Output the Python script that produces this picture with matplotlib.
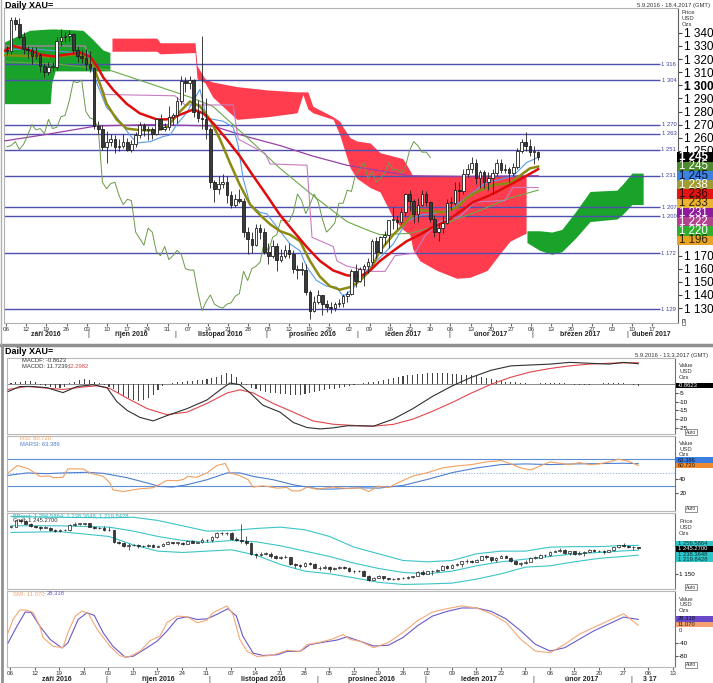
import numpy as np
import matplotlib
matplotlib.use('Agg')
import matplotlib.pyplot as plt
from matplotlib.patches import Rectangle
from matplotlib.lines import Line2D

# Arial-like font with Czech diacritics
plt.rcParams['font.family'] = ['Liberation Sans', 'DejaVu Sans']

W, H = 713, 683

# daily XAU candles 5.9.2016 - 2.3.2017 (x = trading-day index)
opens = [1326, 1326, 1350, 1347, 1337, 1328, 1327, 1322, 1323, 1315, 1310, 1314, 1314, 1334, 1337, 1338, 1339, 1327, 1322, 1321,
         1316, 1313, 1269, 1267, 1253, 1257, 1259, 1253, 1254, 1257, 1251, 1255, 1262, 1270, 1266, 1267, 1263, 1274, 1267, 1268, 1276,
         1277, 1288, 1303, 1302, 1304, 1280, 1275, 1274, 1267, 1226, 1221, 1225, 1226, 1216, 1209, 1213, 1212, 1188, 1183, 1178, 1191, 1188,
         1173, 1170, 1177, 1167, 1170, 1174, 1171, 1160, 1159, 1159, 1142, 1128, 1135, 1140, 1133, 1131, 1130, 1133, 1134, 1139, 1141, 1158,
         1151, 1160, 1162, 1165, 1181, 1173, 1184, 1186, 1197, 1197, 1196, 1203, 1217, 1212, 1202, 1209, 1217, 1211, 1198, 1188, 1191, 1195,
         1210, 1210, 1220, 1219, 1232, 1236, 1241, 1229, 1234, 1226, 1229, 1233, 1241, 1235, 1236, 1233, 1238, 1250, 1257, 1254,
         1249, 1249]
highs = [1330, 1352, 1352, 1351, 1341, 1330, 1329, 1329, 1325, 1317, 1318, 1318, 1337, 1343, 1341, 1342, 1340, 1330, 1327, 1328,
         1326, 1314, 1273, 1270, 1265, 1263, 1262, 1259, 1263, 1260, 1258, 1264, 1272, 1271, 1269, 1268, 1275, 1278, 1271, 1284, 1279,
         1291, 1307, 1306, 1307, 1305, 1289, 1338, 1290, 1268, 1228, 1231, 1232, 1231, 1219, 1217, 1221, 1214, 1192, 1188, 1194, 1194, 1191,
         1180, 1182, 1180, 1175, 1178, 1180, 1174, 1163, 1165, 1164, 1144, 1139, 1144, 1140, 1136, 1135, 1135, 1137, 1141, 1143, 1160, 1164,
         1161, 1164, 1168, 1183, 1184, 1185, 1189, 1197, 1207, 1200, 1206, 1218, 1220, 1213, 1214, 1220, 1219, 1212, 1201, 1195, 1200, 1213,
         1215, 1226, 1226, 1236, 1240, 1245, 1244, 1235, 1235, 1234, 1236, 1244, 1244, 1240, 1238, 1241, 1252, 1259, 1264, 1259,
         1254, 1250]
lows = [1323, 1324, 1342, 1335, 1324, 1321, 1316, 1320, 1310, 1306, 1308, 1311, 1312, 1330, 1333, 1334, 1324, 1318, 1317, 1312,
        1310, 1267, 1263, 1251, 1241, 1254, 1248, 1250, 1252, 1250, 1249, 1253, 1260, 1261, 1258, 1259, 1262, 1266, 1265, 1266, 1270,
        1271, 1285, 1295, 1297, 1276, 1272, 1267, 1259, 1222, 1211, 1217, 1222, 1210, 1206, 1207, 1210, 1184, 1171, 1172, 1177, 1183, 1171,
        1164, 1168, 1158, 1165, 1168, 1168, 1157, 1152, 1155, 1140, 1122, 1127, 1133, 1125, 1127, 1126, 1128, 1131, 1131, 1135, 1140, 1146,
        1150, 1147, 1157, 1163, 1168, 1172, 1179, 1176, 1190, 1190, 1194, 1200, 1204, 1195, 1196, 1208, 1208, 1196, 1184, 1181, 1187, 1194,
        1205, 1209, 1212, 1217, 1230, 1233, 1225, 1222, 1222, 1220, 1217, 1231, 1233, 1233, 1226, 1231, 1236, 1248, 1250, 1246,
        1240, 1243]
closes = [1327, 1350, 1347, 1337, 1328, 1327, 1322, 1323, 1315, 1310, 1314, 1314, 1334, 1337, 1338, 1339, 1327, 1322, 1321, 1316,
          1313, 1269, 1267, 1253, 1257, 1259, 1253, 1254, 1257, 1251, 1255, 1262, 1270, 1266, 1267, 1263, 1274, 1267, 1268, 1276, 1277,
          1288, 1303, 1302, 1304, 1280, 1275, 1274, 1267, 1226, 1221, 1225, 1226, 1216, 1209, 1213, 1212, 1188, 1183, 1178, 1191, 1188, 1173,
          1170, 1177, 1167, 1170, 1174, 1171, 1160, 1159, 1159, 1142, 1128, 1135, 1140, 1133, 1131, 1130, 1133, 1134, 1139, 1141, 1158, 1151,
          1160, 1162, 1165, 1181, 1173, 1184, 1186, 1197, 1197, 1196, 1203, 1217, 1212, 1202, 1209, 1217, 1211, 1198, 1188, 1191, 1195, 1210,
          1210, 1220, 1219, 1232, 1236, 1241, 1229, 1234, 1226, 1229, 1233, 1241, 1235, 1236, 1233, 1238, 1250, 1257, 1254, 1249,
          1249, 1245]

# main panel indicator lines (x = trading-day index, y = price)
red_x = [-0.5, 1.5, 4.7, 8, 11.2, 14.4, 17.6, 20, 21.6, 23.2, 25.6, 28.8, 32, 36.1, 38.5, 40.9, 44.9, 47.3, 49.7, 52.9,
         56.1, 59.3, 62.6, 65.8, 69, 72.2, 75.4, 78.6, 81.9, 85.1, 87.5, 89.9, 93.1, 96.3, 99.5, 102.7, 105.9, 109.2, 112.4, 115.6,
         118.8, 122, 125.2, 128]
red_y = [1326.5, 1330, 1327.5, 1323.5, 1322, 1323.5, 1325, 1322, 1315, 1306, 1296.5, 1286, 1278.6, 1274, 1274, 1276.5, 1281.6, 1278.6, 1271, 1259,
         1246, 1231, 1216, 1201, 1188.7, 1176.7, 1166, 1158.7, 1155, 1154, 1158.7, 1166, 1173.7, 1181, 1186, 1192, 1196, 1203.7, 1211, 1215,
         1220, 1225.4, 1231, 1236]
olive_x = [-0.5, 8, 12, 17.6, 20.8, 22.4, 24, 26.4, 28.8, 32, 36.1, 38.5, 41.7, 44.1, 46.5, 48.9, 51.3, 53.7, 56.1, 58.6,
           61, 63.4, 65.8, 68.2, 70.6, 73, 75.4, 77.8, 80.2, 82.7, 85.1, 87.5, 89.9, 93.1, 96.3, 98.7, 101.9, 105.1, 108.4, 110.8,
           113.2, 117.2, 121.2, 123.6, 126, 128]
olive_y = [1323, 1322, 1322, 1324, 1315, 1301, 1286, 1274, 1267, 1265.8, 1265.5, 1268, 1280, 1287.6, 1284, 1274, 1259, 1241, 1224, 1209,
           1201, 1194, 1188.7, 1186, 1181, 1166, 1154, 1146.7, 1144, 1146, 1151, 1158.7, 1173.7, 1186, 1196, 1205, 1204, 1203, 1206.7, 1214,
           1218.6, 1224, 1225.4, 1231, 1236.6, 1238]
blue_x = [-0.5, 5.5, 12.8, 19.5, 21.6, 24, 26.4, 29.6, 31.3, 34.5, 37.7, 39.3, 40.9, 43.3, 46.5, 48.1, 52.1, 54.5, 55.7, 56.9,
          58.6, 61, 62.6, 65, 68.2, 70.6, 72.2, 74.6, 77, 79.4, 81, 82.7, 85.1, 86.7, 89.9, 93.1, 96.3, 99.5, 102.7, 106.7,
          109.2, 112.4, 115.6, 118.8, 122, 125.2, 128]
blue_y = [1327, 1328, 1326, 1324, 1302, 1283, 1276, 1262, 1256, 1257, 1261, 1262, 1270, 1279, 1297, 1275, 1272.6, 1268, 1254, 1229,
          1209, 1203, 1202, 1192, 1179, 1173.7, 1161.7, 1151, 1146.7, 1146, 1139, 1143, 1151, 1158.7, 1168.6, 1179, 1196, 1201, 1202, 1205,
          1211, 1218.6, 1226, 1228, 1231, 1241, 1245]
pink_x = [-0.5, 18.8, 21.2, 23.6, 40.5, 42.9, 54.5, 55.7, 62.2, 63.4, 72.3, 73.5, 78.6, 79.5, 81.9, 87.5, 91.1, 93.5, 98.3, 100.7,
          104.3, 109.2, 112.8, 120, 121.9, 128]
pink_y = [1330, 1330, 1310, 1293, 1292, 1285, 1285, 1259, 1248, 1240, 1239, 1184, 1177, 1166, 1162, 1158, 1158, 1170, 1172, 1185,
          1196, 1200, 1211, 1212, 1222, 1222]
purple_x = [-0.5, 10.4, 21.6, 34.5, 49.6, 57.6, 65.8, 73.7, 81.9, 87.5, 97.1, 109.2, 128]
purple_y = [1257.6, 1263, 1269, 1270, 1269, 1261, 1254, 1246, 1239, 1236, 1231, 1230.5, 1231]
sma_x = [-0.5, 12.8, 24.8, 44.1, 49.6, 57.6, 65.8, 73.7, 81.9, 87.5, 89.9, 97.1, 105.1, 113.3, 121.2, 128]
sma_y = [1318, 1316, 1311.5, 1291, 1284, 1261, 1236.6, 1216, 1196, 1188.7, 1186, 1187, 1194, 1203.7, 1214, 1220]

# cloud edges
g1_x = [-0.7, 5.5, 10.4, 10.8, 11.6, 18.3, 20.7, 23.1, 24.8]
g1_top = [1333, 1342, 1343, 1343, 1343, 1342, 1335, 1327, 1325]
g1_bot = [1286, 1286, 1286, 1302, 1311, 1311, 1311, 1311, 1311]
rc_x = [25.3, 36.1, 36.9, 45.3, 45.8, 47.7, 49.6, 55.4, 62.7, 69.9, 71.3, 72.5, 73.7, 78.6, 80.2, 81, 82.7, 84.3, 87.5, 89.9,
        93, 95.4, 97.1, 97.8, 99.5, 103.6, 108.4, 111.6, 115.7, 118.8, 121.2, 124.3, 125.1]
rc_top = [1336, 1336, 1332.5, 1332.5, 1315, 1305, 1302.5, 1299, 1296.5, 1295, 1295, 1295, 1284, 1276, 1272.5, 1268, 1260, 1257.5, 1256, 1248.6,
          1246, 1244, 1235, 1230.5, 1230.5, 1230.5, 1230.5, 1230.5, 1230.5, 1230.5, 1230.5, 1230.5, 1230.5]
rc_bot = [1326, 1326, 1324, 1325, 1305, 1302, 1291, 1274, 1276, 1279, 1293, 1282, 1279, 1274, 1262, 1254, 1237, 1229, 1222, 1218.6,
          1199, 1190, 1186, 1175, 1166, 1158.7, 1152.7, 1153.5, 1158.7, 1171.5, 1181, 1186, 1187]
g2_x = [125.3, 128.4, 131.3, 133.7, 136.9, 140.5, 147, 148.2, 150.6, 153.3]
g2_top = [1189, 1189, 1188, 1190, 1203, 1219, 1220, 1224, 1233, 1233]
g2_bot = [1180, 1174, 1171, 1173, 1183, 1196, 1198, 1201, 1209, 1209]

levels = [1316, 1304, 1270, 1263, 1251, 1231, 1207, 1200, 1172, 1129]

main_box_txt = ['1 245', '1 245', '1 245', '1 238', '1 236', '1 233', '1 231', '1 222', '1 220', '1 196']
main_box_bg = ['#000000', '#4c8a2c', '#3c82e0', '#a09c32', '#e41414', '#e8b432', '#8c1c9c', '#b2438e', '#2eb02e', '#e8a422']
main_box_fg = ['white', 'white', '#101030', 'white', '#300000', '#302000', 'white', 'white', 'white', '#302000']

# MACD
macd_x = [-0.6, 1.8, 4.5, 7.3, 10.6, 13.5, 16.7, 19.6, 21.6, 23.7, 26.3, 29, 31.8, 35.9, 40, 42.7, 44.7, 46.7, 48.8, 51.4,
          54.9, 57.6, 60.4, 63.1, 65.7, 68.6, 71.2, 74, 78, 82, 86, 90, 94, 98, 102, 106, 110, 114, 118, 122, 125, 128]
macd_y = [-4.2, -1.3, -1.3, -2, -4.8, -1.3, -0.3, -2, -10, -15, -19, -21, -18, -14, -9, -3.2, 0.7, -0.3, -5, -12,
          -16, -21.9, -24.8, -25.6, -25, -23.8, -23.8, -24, -20, -14, -7, -1, 4, 8, 10.5, 11, 11.5, 12.5, 12, 11.5, 12.5, 11.7]
sig_x = [-0.6, 3.3, 10.6, 15, 17.6, 20.2, 23.7, 27.8, 31.8, 35.9, 40, 44.1, 46.7, 49.4, 53.5, 57.6, 61.6, 65.7, 71.2, 74,
         78, 82, 86, 90, 94, 98, 102, 106, 110, 114, 118, 122, 125, 128]
sig_y = [-3, -1.3, -3, -1.5, -0.9, -2.5, -8, -14, -17.4, -16, -11, -5, -3.2, -5, -11, -16, -21, -22.9, -23.8, -24,
         -23, -20, -15.5, -10.5, -5, 0, 4, 7, 9, 10.5, 11.5, 12, 12.2, 12.3]
macd_hist = [0.5, 1, 1.5, 2, 2, 1.5, -0.5, -1, -1.5, -2, -2, -1.5, 0.5, 1.5, 2.5, 3, 2.5, 1.5, 0.5, -0.5,
             -1.5, -3, -5, -6.5, -8, -9, -9.5, -9, -8, -6, -3.5, -1, 0, 0.5, 1, 1.5, 2, 2, 2.5, 2.5,
             3, 3.5, 4, 5.5, 6.5, 6, 4, 1.5, -0.5, -2, -3, -4, -4.5, -5, -5, -5.5, -5.5, -6, -6, -6,
             -5.5, -5, -4.5, -4, -3.5, -3, -2.5, -2, -1.5, -1, -0.5, 0, 0.5, 1, 1.5, 2, 2.5, 3, 3.5, 4,
             4.5, 5, 5.5, 6, 6, 6.5, 6.5, 6.5, 6.5, 6.5, 6, 6, 5.5, 5, 5, 4.5, 4, 3.5, 3, 2.5,
             2, 1.5, 1, 1, 0.5, 0.5, 0, 0, 0.5, 0.5, 0.5, 0.5, 0.5, 0.5, 0, -0.5, -0.5, -0.5, -0.5, 0,
             0, 0.5, 0.5, 0.5, 0.5, 0.5, 0, -0.5, -0.86]

# RSI
rsi_x = [-0.6, 1.3, 3.5, 5.9, 7.9, 8.6, 10.6, 11.6, 14.7, 16.1, 18.8, 20.2, 20.8, 22.9, 26.3, 29, 29.8, 31.8, 33.9, 35.2,
         36.1, 37.8, 40, 42, 43.7, 44.7, 46.7, 48.4, 49.4, 51.4, 54.3, 56.3, 57.3, 59, 60.4, 62.4, 64, 65.7, 67, 68.6,
         71.2, 73, 75, 77, 79, 82, 85, 88, 91, 94, 97, 100, 102, 104, 106, 108, 110, 112, 114, 116,
         118, 120, 122, 124, 126, 128]
rsi_y = [49.6, 60.6, 56, 44.5, 45, 42.5, 43, 55.6, 55.6, 49.6, 44.5, 34.6, 24.5, 22, 26, 27.5, 30.5, 38.5, 38, 40,
         44.5, 43, 49.6, 60.6, 63.6, 49.6, 45.6, 39.5, 28.6, 30.5, 27, 28, 23, 23, 28.6, 25.5, 27, 28.6, 27.5, 26.6,
         27.5, 22, 30, 28, 35, 45, 50, 57, 60, 62, 66, 68, 63, 57, 54, 60, 66, 64, 62, 65,
         62, 63, 66, 70, 67, 60.7]
marsi_x = [-0.6, 3.3, 7.3, 10.6, 15.5, 18.8, 23.7, 27.8, 30.4, 33, 35.9, 40, 44.1, 46.7, 49.4, 53.5, 57.6, 60.4, 63.1, 65.7,
           71.2, 75, 80, 85, 90, 95, 100, 105, 110, 115, 120, 125, 128]
marsi_y = [46, 49.6, 48.5, 49.6, 50.5, 49, 42.5, 34.6, 29.5, 28.6, 32, 39.5, 49.6, 49.6, 44.5, 39.5, 32, 28.6, 25.6, 25.6,
           27.5, 27, 31, 40, 50, 57, 62, 63, 62, 63, 63.5, 64, 63.4]

# Bollinger bands
bb_x = [0, 10, 20, 25, 30, 35, 40, 45, 50, 55, 60, 65, 70, 75, 80, 85, 90, 95, 100, 105, 110, 115, 120, 125, 128]
bb_up = [1365, 1362, 1360, 1362, 1350, 1330, 1310, 1312, 1320, 1325, 1315, 1290, 1250, 1225, 1200, 1195, 1200, 1225, 1235, 1235,
         1250, 1252, 1252, 1256, 1256.6]
bb_mid = [1330, 1330, 1325, 1310, 1290, 1275, 1268, 1275, 1270, 1255, 1235, 1215, 1190, 1170, 1155, 1150, 1160, 1180, 1195, 1205,
          1215, 1225, 1230, 1236, 1238.4]
bb_low = [1305, 1308, 1290, 1258, 1235, 1230, 1235, 1240, 1220, 1185, 1160, 1150, 1135, 1118, 1110, 1112, 1115, 1130, 1150, 1175,
          1180, 1195, 1208, 1215, 1219.8]

# SMI
smi_x = [-0.6, 0.4, 1.8, 3.1, 4.5, 5.9, 6.5, 8.6, 10.6, 11.6, 13.1, 14.5, 15.8, 17.6, 20.2, 22.2, 23.9, 26.3, 28.4, 30.4,
         31.8, 33.9, 36, 38, 40, 41.2, 44.1, 45.3, 46.7, 48.2, 50.2, 52.3, 54.3, 56.3, 59, 60.4, 63.1, 65.7, 67.8, 69.2,
         71.2, 74, 77, 80, 83, 86, 89, 92, 95, 98, 101, 104, 107, 110, 113, 116, 119, 122, 125, 128]
smi_y = [-11, 28, 56, 56, 49, 8, -25, -51, -55, -11, 38, 53, 45, -1.5, -51, -79, -83, -66, -34, -21,
         18.5, 38, 36, 18.5, 26, 48, 68, 43, -31, -66, -81, -79, -73, -63, -66, -46, -39, -29, -16, -31,
         -36, -55, -40, -10, 25, 50, 60, 68, 62, 45, 20, -30, -65, -70, -45, -15, 5, 25, 45, 11]
smis_x = [-0.6, 1.2, 2.9, 4.1, 5.9, 8, 10.4, 11.6, 13.7, 15.5, 17, 18.8, 20.8, 23.3, 25, 26.9, 29.8, 31.8, 33.9, 35.9,
          38, 40, 42, 44.3, 46, 47.3, 49.4, 51.4, 54.3, 56.3, 59, 61, 63.7, 66.4, 68.6, 71.2, 74, 77, 80, 83,
          86, 89, 92, 95, 98, 101, 104, 107, 110, 113, 116, 119, 122, 125, 128]
smis_y = [-41, 8, 50, 49, 8, -31, -56, -41, 28, 48, 40, -11, -51, -83, -80, -63, -36, -6.5, 30, 36,
          28, 30, 43, 60, 38, -21, -71, -78, -76, -66, -66, -46, -39, -33, -23, -36, -50, -48, -25, 10,
          38, 52, 62, 62, 52, 30, -5, -45, -65, -55, -30, -5, 15, 35, 28.3]

# axis labels
week_labels = ['06', '12', '19', '26', '03', '10', '17', '24', '31', '07', '14', '21', '28', '05', '12', '19', '26',
               '02', '09', '16', '23', '30', '06', '13', '20', '27', '06', '13', '20', '27', '03', '10', '17']
month_names = ['září 2016', 'říjen 2016', 'listopad 2016', 'prosinec 2016', 'leden 2017', 'únor 2017', 'březen 2017']
month_starts = [19.5, 40.5, 62.5, 84.5, 106.5, 126.5, 149.5]
price_ticks = [1130, 1140, 1150, 1160, 1170, 1250, 1260, 1270, 1280, 1290, 1300, 1310, 1320, 1330, 1340]


def fmt(v):
    return '{:,.0f}'.format(v).replace(',', ' ')


fig = plt.figure(figsize=(W / 100, H / 100), dpi=100)
fig.patch.set_facecolor('white')


def rect(l, t, r, b):
    return [l / W, 1 - b / H, (r - l) / W, (b - t) / H]


def ftext(x, y, s, **kw):
    return fig.text(x / W, 1 - y / H, s, **kw)


def vbox(y, s, bg, fg, h, fs, x0, x1=713, bold=False):
    fig.patches.append(Rectangle((x0 / W, 1 - (y + h / 2) / H), (x1 - x0) / W, h / H,
                                 transform=fig.transFigure, facecolor=bg, edgecolor='none', zorder=10))
    ftext(x0 + 2, y, s, color=fg, fontsize=fs, va='center', ha='left', zorder=11,
          fontweight='bold' if bold else 'normal')


def flines(x0, y0, x1, y1, c, lw):
    fig.lines.append(Line2D([x0 / W, x1 / W], [1 - y0 / H, 1 - y1 / H], transform=fig.transFigure,
                            color=c, lw=lw, zorder=12))


def draw_candles(ax, width, lw, min_body):
    idx = np.arange(len(closes))
    o = np.array(opens, float)
    c = np.array(closes, float)
    ax.vlines(idx, lows, highs, color='#1e1e1e', lw=lw, zorder=6)
    bottom = np.minimum(o, c)
    height = np.maximum(np.abs(c - o), min_body)
    up = c >= o
    ax.bar(idx[up], height[up], width, bottom[up], facecolor='white', edgecolor='#1e1e1e', lw=lw, zorder=7)
    ax.bar(idx[~up], height[~up], width, bottom[~up], facecolor='#3a3a3a', edgecolor='#1e1e1e', lw=lw, zorder=7)


# ---------------- main chart ----------------
ax = fig.add_axes(rect(4, 8, 678, 323))
ax.set_xlim(-0.72, 161.7)
ax.set_ylim(1118.6, 1359)

green = '#1aa32a'
redc = '#ff3d4f'
ax.fill_between(g1_x, g1_top, g1_bot, color=green, lw=0, zorder=1)
ax.fill_between(rc_x, rc_top, rc_bot, color=redc, lw=0, zorder=1)
ax.fill_between(g2_x, g2_top, g2_bot, color=green, lw=0, zorder=1)

ax.hlines(levels, -1, 157.3, color='#4f4fb0', lw=1, zorder=2)
for lv in levels:
    ax.text(161.3, lv, fmt(lv), color='#4040a0', fontsize=4.2, ha='right', va='center', zorder=3)

ax.plot(purple_x, purple_y, color='#9a3fa8', lw=0.9, zorder=3)
ax.plot(sma_x, sma_y, color='#6aa84a', lw=0.8, zorder=3)
ax.plot(np.arange(len(closes) - 26), closes[26:], color='#6a9a4a', lw=0.7, zorder=3)
ax.plot(pink_x, pink_y, color='#c77cc0', lw=0.8, zorder=3)
ax.plot(blue_x, blue_y, color='#5a9ae6', lw=0.8, zorder=3)
ax.plot(olive_x, olive_y, color='#8c8a10', lw=1.8, zorder=4)
ax.plot(red_x, red_y, color='#e00d0d', lw=1.8, zorder=4)
draw_candles(ax, 0.62, 0.6, 0.6)

ax.yaxis.tick_right()
ax.set_yticks(price_ticks)
ax.set_yticklabels([fmt(v) for v in price_ticks], fontsize=8.5)
for lbl in ax.get_yticklabels():
    if lbl.get_text() == '1 300':
        lbl.set_fontweight('bold')
ax.tick_params(axis='y', length=3, pad=1, color='#444444')

main_ticks = [(6 + 20.2 * k - 7) / 4.15 for k in range(len(week_labels))]
ax.set_xticks(main_ticks)
ax.set_xticklabels(week_labels, fontsize=4.5, color='#333333')
ax.tick_params(axis='x', length=2, pad=1, color='#666666')

edges = [-0.72] + month_starts
for k, name in enumerate(month_names):
    pos = (edges[k] + edges[k + 1]) / 2
    ax.text(pos, -0.038, name, transform=ax.get_xaxis_transform(), ha='center', va='center',
            fontsize=5, fontweight='bold', color='#222222')
for s in month_starts:
    ax.text(s, -0.038, '|', transform=ax.get_xaxis_transform(), ha='center', va='center', fontsize=5, color='#333333')
ax.text(150.6, -0.038, 'duben 2017', transform=ax.get_xaxis_transform(), ha='left', va='center',
        fontsize=5, fontweight='bold', color='#222222')

for s in ax.spines.values():
    s.set_color('#b0b0b0')
    s.set_linewidth(0.8)
ax.spines['right'].set_color('#606060')

ftext(5, 6, 'Daily XAU=', fontsize=6.5, fontweight='bold', va='center')
ftext(710, 5, '5.9.2016 - 18.4.2017 (GMT)', fontsize=4.2, ha='right', va='center', color='#333333')
for k, t in enumerate(['Price', 'USD', 'Ozs']):
    ftext(682, 13 + 6 * k, t, fontsize=4.2, va='center', color='#333333')
ys_main = [157, 166.3, 175.5, 184.8, 194, 203.3, 212.5, 221.8, 231, 240.3]
for y, t, bg, fg in zip(ys_main, main_box_txt, main_box_bg, main_box_fg):
    vbox(y, t, bg, fg, 9.3, 8.3, 677, bold=(bg == '#000000'))
ftext(682, 321.5, '0', fontsize=3.6, va='center', color='#333333',
      bbox=dict(boxstyle='square,pad=0.1', fc='white', ec='#666666', lw=0.5))

# ---------------- lower section ----------------
def lower_axes(t, b):
    a = fig.add_axes(rect(7, t, 675, b))
    a.set_xlim(-0.82, 135.5)
    a.yaxis.tick_right()
    a.tick_params(axis='y', labelsize=4.5, length=2, pad=1, color='#555555')
    a.tick_params(axis='x', bottom=False, labelbottom=False)
    for s in a.spines.values():
        s.set_color('#b8b8b8')
        s.set_linewidth(0.8)
    a.spines['right'].set_color('#707070')
    return a


# MACD
a1 = lower_axes(358, 434)
a1.set_ylim(-28.5, 15)
a1.axhline(0, color='#8a8a8a', lw=0.7, zorder=1)
a1.bar(np.arange(len(macd_hist)), macd_hist, 0.22, color='#444444', zorder=2)
a1.plot(sig_x, sig_y, color='#e0474c', lw=0.8, zorder=3)
a1.plot(macd_x, macd_y, color='#303030', lw=0.8, zorder=3)
a1.set_yticks([-5, -10, -15, -20, -25])
a1.set_yticklabels(['-5', '-10', '-15', '-20', '-25'])

# RSI
a2 = lower_axes(436, 511)
a2.set_ylim(-7, 104.5)
a2.axhline(70, color='#5b8fd6', lw=0.8, zorder=1)
a2.axhline(30, color='#5b8fd6', lw=0.8, zorder=1)
a2.axhline(50, color='#8db4ea', lw=0.8, ls=(0, (1, 1.5)), zorder=1)
a2.plot(marsi_x, marsi_y, color='#4d7fd0', lw=0.8, zorder=3)
a2.plot(rsi_x, rsi_y, color='#f0a060', lw=0.8, zorder=3)
a2.set_yticks([40, 20])
a2.set_yticklabels(['40', '20'])

# Bollinger + candles
a3 = lower_axes(513, 589)
a3.set_ylim(1093, 1378)
a3.plot(bb_x, bb_up, color='#3cc4c8', lw=0.8, zorder=3)
a3.plot(bb_x, bb_mid, color='#3cc4c8', lw=0.8, zorder=3)
a3.plot(bb_x, bb_low, color='#3cc4c8', lw=0.8, zorder=3)
draw_candles(a3, 0.55, 0.5, 2)
a3.set_yticks([1150])
a3.set_yticklabels(['1 150'])

# SMI
a4 = lower_axes(591, 667)
a4.set_ylim(-112, 112)
a4.plot(smis_x, smis_y, color='#6a5ac8', lw=0.8, zorder=3)
a4.plot(smi_x, smi_y, color='#f4a878', lw=0.8, zorder=3)
a4.set_yticks([-40, -80])
a4.set_yticklabels(['-40', '-80'])

low_ticks = [(10 + 24.54 * k - 11) / 4.9 for k in range(28)]
a4.set_xticks(low_ticks)
a4.set_xticklabels(week_labels[:28], fontsize=4.5, color='#333333')
a4.tick_params(axis='x', bottom=True, labelbottom=True, length=2, pad=1, color='#666666')
edges_l = [-0.82] + month_starts[:6]
for k, name in enumerate(month_names[:6]):
    pos = (edges_l[k] + edges_l[k + 1]) / 2
    a4.text(pos, -0.16, name, transform=a4.get_xaxis_transform(), ha='center', va='center',
            fontsize=5, fontweight='bold', color='#222222')
for s in month_starts[:6]:
    a4.text(s, -0.16, '|', transform=a4.get_xaxis_transform(), ha='center', va='center', fontsize=5, color='#333333')
a4.text(130.3, -0.16, '3 17', transform=a4.get_xaxis_transform(), ha='center', va='center',
        fontsize=5, fontweight='bold', color='#222222')

# legends / headers lower
ftext(5, 352, 'Daily XAU=', fontsize=6.5, fontweight='bold', va='center')
ftext(708, 355, '5.9.2016 - 13.3.2017 (GMT)', fontsize=4.2, ha='right', va='center', color='#333333')
ftext(22, 360, 'MACDF: -0.8623', fontsize=4.2, va='center', color='#333333')
ftext(22, 366, 'MACDD: 11.7239;', fontsize=4.2, va='center', color='#333333')
ftext(68, 366, '12.2982', fontsize=4.2, va='center', color='#e0474c')
ftext(20, 438.3, 'RSI: 60.720', fontsize=4.2, va='center', color='#f0a060')
ftext(20, 444, 'MARSI: 63.386', fontsize=4.2, va='center', color='#4d7fd0')
ftext(13, 515.5, 'BBand: 1 256.5864; 1 238.3648; 1 219.8428', fontsize=4.2, va='center', color='#30b8bc')
ftext(13, 521, 'Cndl: 1 245.2700', fontsize=4.2, va='center', color='#333333')
ftext(13, 593.3, 'SMI: 11.070;', fontsize=4.2, va='center', color='#f4a878')
ftext(47, 593.3, '28.318', fontsize=4.2, va='center', color='#6a5ac8')

for ys, first in [((365, 371.7, 377.7), 'Value'), ((443.3, 449.3, 455), 'Value'),
                  ((521.7, 527.3, 533.3), 'Price'), ((599.3, 605, 611), 'Value')]:
    for y, t in zip(ys, [first, 'USD', 'Ozs']):
        ftext(679, y, t, fontsize=4.2, va='center', color='#333333')

vbox(385.5, '-0.8623', '#000000', 'white', 5.5, 4.2, 676)
vbox(460, '63.386', '#3c7fe0', '#101030', 5.5, 4.2, 676)
vbox(465.5, '60.720', '#f08a30', '#302000', 5.5, 4.2, 676)
vbox(543.5, '1 256.5864', '#2ec6c8', '#103030', 5.3, 4.2, 676)
vbox(549, '1 245.2700', '#000000', 'white', 5.3, 4.2, 676)
vbox(554.3, '1 238.3648', '#2ec6c8', '#103030', 5.3, 4.2, 676)
vbox(559.6, '1 219.8428', '#2ec6c8', '#103030', 5.3, 4.2, 676)
vbox(619, '28.318', '#6a4ac8', '#101030', 5.5, 4.2, 676)
vbox(624.7, '11.070', '#f4a070', '#302000', 5.5, 4.2, 676)
ftext(679, 630.5, '0', fontsize=4.2, va='center', color='#333333')

for y in [432, 509, 587.3, 665]:
    ftext(686, y, 'Auto', fontsize=3.5, va='center', color='#333333',
          bbox=dict(boxstyle='square,pad=0.12', fc='white', ec='#666666', lw=0.5))

# frames
flines(0, 344.5, 713, 344.5, '#909090', 2.5)
flines(2, 345, 2, 683, '#909090', 2)
flines(0.5, 0, 0.5, 344, '#b0b0b0', 1)

fig.savefig('out.png', dpi=100)
